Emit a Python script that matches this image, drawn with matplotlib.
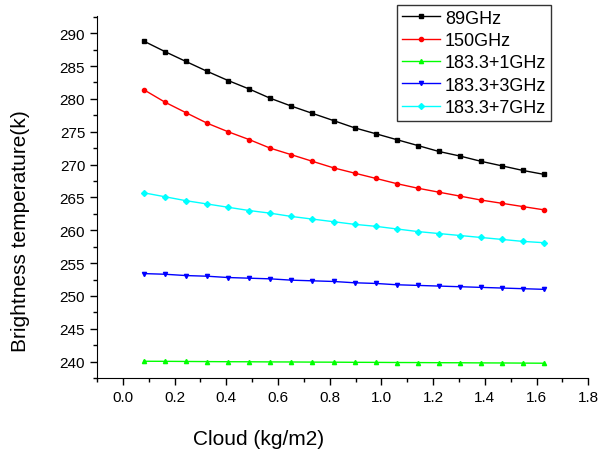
import matplotlib
matplotlib.use('Agg')
import matplotlib.pyplot as plt
from matplotlib.ticker import MultipleLocator

plt.rcParams['font.family'] = ['Liberation Sans', 'DejaVu Sans']

cloud = [0.081, 0.163, 0.244, 0.326, 0.407, 0.489, 0.570, 0.652, 0.733, 0.815,
         0.896, 0.978, 1.059, 1.141, 1.222, 1.304, 1.385, 1.467, 1.548, 1.630]

tb_89 = [288.8, 287.2, 285.7, 284.2, 282.8, 281.5, 280.1, 278.9, 277.8, 276.7,
         275.6, 274.7, 273.8, 272.9, 272.0, 271.3, 270.5, 269.8, 269.1, 268.5]
tb_150 = [281.4, 279.5, 277.9, 276.3, 275.0, 273.8, 272.5, 271.5, 270.5, 269.5,
          268.7, 267.9, 267.1, 266.4, 265.8, 265.2, 264.6, 264.1, 263.6, 263.1]
tb_1831 = [240.05, 240.04, 240.02, 240.0, 239.98, 239.97, 239.95, 239.94, 239.92, 239.91,
           239.89, 239.88, 239.86, 239.85, 239.83, 239.82, 239.8, 239.79, 239.77, 239.75]
tb_1833 = [253.4, 253.3, 253.1, 253.0, 252.8, 252.7, 252.6, 252.4, 252.3, 252.2,
           252.0, 251.9, 251.7, 251.6, 251.5, 251.4, 251.3, 251.2, 251.1, 251.0]
tb_1837 = [265.7, 265.1, 264.5, 264.0, 263.5, 263.0, 262.6, 262.1, 261.7, 261.3,
           260.9, 260.6, 260.2, 259.8, 259.5, 259.2, 258.9, 258.6, 258.3, 258.1]

labels = ['89GHz', '150GHz', '183.3+1GHz', '183.3+3GHz', '183.3+7GHz']
series = [tb_89, tb_150, tb_1831, tb_1833, tb_1837]
colors = ['black', 'red', '#00ff00', 'blue', 'cyan']
markers = ['s', 'o', '^', 'v', 'D']

fig = plt.figure(figsize=(5.99, 4.52), dpi=100)
ax = fig.add_axes([0.162, 0.1615, 0.82, 0.8005])

for y, lab, c, m in zip(series, labels, colors, markers):
    ax.plot(cloud, y, color=c, marker=m, markersize=3, linewidth=1, label=lab)

ax.set_xlim(-0.1, 1.8)
ax.set_ylim(237.5, 292.6)
ax.xaxis.set_major_locator(MultipleLocator(0.2))
ax.xaxis.set_minor_locator(MultipleLocator(0.1))
ax.yaxis.set_major_locator(MultipleLocator(5))
ax.yaxis.set_minor_locator(MultipleLocator(2.5))
ax.xaxis.set_major_formatter(plt.FuncFormatter(lambda v, p: '%.1f' % v))

ax.spines['top'].set_visible(False)
ax.spines['right'].set_visible(False)
ax.tick_params(direction='out', length=5, width=1, labelsize=11)
ax.tick_params(which='minor', direction='out', length=3, width=1)

# axis titles sit off-centre in the original
ax.set_xlabel('Cloud (kg/m2)', fontsize=15)
ax.set_ylabel('Brightness temperature(k)', fontsize=15)
ax.xaxis.set_label_coords(0.329, -0.14)
ax.yaxis.set_label_coords(-0.136, 0.41)

leg = ax.legend(loc='upper right', bbox_to_anchor=(551 / 599, 1 - 6 / 452),
                bbox_transform=fig.transFigure, borderaxespad=0, fontsize=13,
                frameon=True, fancybox=False, edgecolor='black',
                handlelength=2.1, borderpad=0.25, labelspacing=0.3, handletextpad=0.3)
leg.get_frame().set_linewidth(1)

fig.savefig('out.png', dpi=100)
